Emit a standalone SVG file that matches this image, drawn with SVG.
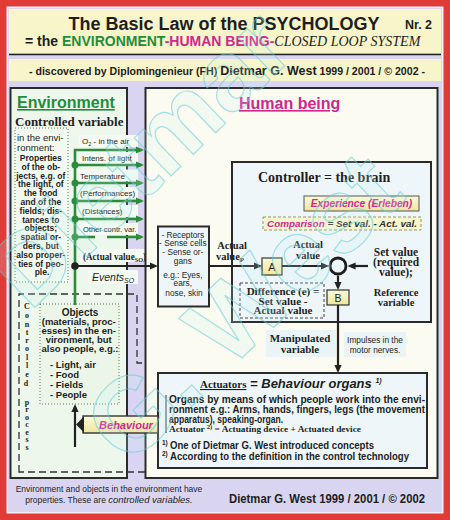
<svg xmlns="http://www.w3.org/2000/svg" width="450" height="520" viewBox="0 0 450 520">
<defs>
<style>
text{font-family:"Liberation Sans",Arial,sans-serif;fill:#1e1e1e}
.sf{font-family:"Liberation Serif","Times New Roman",serif}
.b{font-weight:bold}
.it{font-style:italic}
.mid{text-anchor:middle}
.mag{fill:#cf2790}
.grn{fill:#1f8d3a}
.box{fill:#eef6fa;stroke:#2b2b2b;stroke-width:2}
.panel{stroke:#2b2b2b;stroke-width:2}
.gl{stroke:#2c8c3c;stroke-width:2.6;fill:none}
.bl{stroke:#222;stroke-width:2.2;fill:none}
.lbl{fill:#f5faf3}
.dot{fill:none;stroke:#5b7d5b;stroke-width:1;stroke-dasharray:1 2}
.dash{fill:none;stroke:#444;stroke-width:1;stroke-dasharray:3 2}
.wm{font-family:"Liberation Sans",Arial,sans-serif;font-weight:bold;fill:#c6f2f2;fill-opacity:.18;stroke:#62ccd4;stroke-width:1.2;stroke-opacity:.55}
</style>
<linearGradient id="yel" x1="0" y1="0" x2="0" y2="1"><stop offset="0" stop-color="#fbf9dc"/><stop offset="1" stop-color="#efe69c"/></linearGradient>
<marker id="ab" viewBox="0 0 10 10" refX="7" refY="5" markerWidth="8" markerHeight="8" markerUnits="userSpaceOnUse" orient="auto"><path d="M0,0.5 L10,5 L0,9.5 z" fill="#222"/></marker>
<marker id="ag" viewBox="0 0 10 10" refX="7" refY="5" markerWidth="8" markerHeight="8" markerUnits="userSpaceOnUse" orient="auto"><path d="M0,0.5 L10,5 L0,9.5 z" fill="#2c8c3c"/></marker>
</defs>

<!-- frame -->
<rect width="450" height="520" fill="#e03b37"/>
<rect x="6.5" y="6.5" width="437" height="507" fill="#f2eefa"/>
<rect x="8" y="8" width="434" height="504" fill="#d9d5f1"/>

<g id="title">
<rect x="9" y="9" width="432" height="44" fill="#f7f5c9"/>
<line x1="9" y1="54.5" x2="441" y2="54.5" stroke="#222" stroke-width="1.5"/>
<rect x="9" y="59" width="432" height="22" fill="#f7f5c9"/>
<text x="224" y="29.5" class="b mid" font-size="18">The Basic Law of the PSYCHOLOGY</text>
<text x="405" y="28.5" class="b" font-size="13.5" textLength="27" lengthAdjust="spacingAndGlyphs">Nr. 2</text>
<text x="25" y="46" class="b" font-size="14">= the <tspan class="grn">ENVIRONMENT</tspan><tspan class="mag">-HUMAN BEING-</tspan><tspan class="sf it" font-weight="normal">CLOSED LOOP SYSTEM</tspan></text>
<text x="29" y="75" class="b" font-size="11" textLength="396" lengthAdjust="spacingAndGlyphs">- discovered by Diplomingenieur (FH) <tspan font-size="13">Dietmar G. West</tspan> 1999 / 2001 / © 2002 -</text>
</g>

<g id="environment">
<rect x="10.5" y="88" width="116.5" height="390" fill="#eef7ec" class="panel"/>
<text x="17" y="108" class="b grn" font-size="16" text-decoration="underline">Environment</text>
<text x="15" y="126" class="sf b" font-size="13">Controlled variable</text>
</g>

<g id="properties">
<rect x="15" y="128" width="53" height="154" fill="#f2f9f0"/>
<rect x="15" y="128" width="53" height="154" class="dot"/>
<text x="17" y="141" font-size="9.5">in the envi-</text>
<text x="17" y="151" font-size="9.5">ronment:</text>
<text class="b mid" font-size="8.5">
<tspan x="42" y="161">Properties</tspan>
<tspan x="42" y="169.8">of the ob-</tspan>
<tspan x="42" y="178.6">jects, e.g. of</tspan>
<tspan x="42" y="187.4">the light, of</tspan>
<tspan x="42" y="196.2">the food</tspan>
<tspan x="42" y="205">and of the</tspan>
<tspan x="42" y="213.8">fields; dis-</tspan>
<tspan x="42" y="222.6">tances to</tspan>
<tspan x="42" y="231.4">objects;</tspan>
<tspan x="42" y="240.2">spatial or-</tspan>
<tspan x="42" y="249">ders, but</tspan>
<tspan x="42" y="257.8">also proper-</tspan>
<tspan x="42" y="266.6">ties of peo-</tspan>
<tspan x="42" y="275.4">ple.</tspan>
</text>
</g>

<g id="controlled-variables">
<rect x="79" y="135" width="59" height="12" class="lbl"/>
<rect x="79" y="152" width="59" height="12" class="lbl"/>
<rect x="79" y="169.5" width="59" height="12" class="lbl"/>
<rect x="79" y="187" width="59" height="12" class="lbl"/>
<rect x="79" y="205" width="59" height="12" class="lbl"/>
<rect x="79" y="223" width="59" height="12" class="lbl"/>
<text x="82" y="144" font-size="8">O<tspan font-size="5.5" dy="2">2</tspan><tspan dy="-2"> - in the air</tspan></text>
<text x="82" y="161" font-size="8">Intens. of light</text>
<text x="80" y="178.5" font-size="8">Temperature</text>
<text x="80" y="196" font-size="8">(Performances)</text>
<text x="82" y="214" font-size="8">(Distances)</text>
<text x="83" y="232" font-size="7.5">Other contr. var.</text>
</g>

<g id="actual-value-so">
<rect x="80" y="249" width="66" height="13" class="lbl"/>
<rect x="88" y="270" width="50" height="14" class="lbl"/>
<text x="83" y="260" class="sf b" font-size="9.5" textLength="63" lengthAdjust="spacingAndGlyphs">(Actual value<tspan font-size="6.5" dy="2">SO</tspan><tspan dy="-2">)</tspan></text>
<text x="92" y="281" class="it" font-size="10.5">Events<tspan font-size="7" dy="2">SO</tspan></text>
</g>

<g id="controlled-process">
<path d="M19,472 V294 H137 V363 H432 V472 Z" fill="none" stroke="#333" stroke-width="1.3" stroke-dasharray="7 4"/>
<text class="sf b mid" font-size="8">
<tspan x="27" y="309">C</tspan><tspan x="27" y="317.5">o</tspan><tspan x="27" y="326.5">n</tspan><tspan x="27" y="335">t</tspan><tspan x="27" y="342.5">r</tspan><tspan x="27" y="350.5">o</tspan><tspan x="27" y="360">l</tspan><tspan x="27" y="368">l</tspan><tspan x="27" y="376.5">e</tspan><tspan x="27" y="386">d</tspan>
<tspan x="27" y="405">p</tspan><tspan x="27" y="412">r</tspan><tspan x="27" y="419.5">o</tspan><tspan x="27" y="427">c</tspan><tspan x="27" y="434.5">e</tspan><tspan x="27" y="442">s</tspan><tspan x="27" y="449.5">s</tspan>
</text>
</g>

<g id="objects">
<rect x="40" y="304" width="79" height="100" fill="#ebf6e9"/>
<rect x="40" y="304" width="79" height="100" class="dot"/>
<text x="80" y="315.5" class="b mid" font-size="10">Objects</text>
<text class="b mid" font-size="9.5">
<tspan x="80" y="324.5">(materials, proc-</tspan>
<tspan x="80" y="333.5">esses) in the en-</tspan>
<tspan x="80" y="342.5">vironment, but</tspan>
<tspan x="80" y="351.5">also people, e.g.:</tspan>
</text>
<text class="b" font-size="9.5">
<tspan x="50" y="368">- Light, air</tspan>
<tspan x="50" y="378">- Food</tspan>
<tspan x="50" y="388">- Fields</tspan>
<tspan x="50" y="398">- People</tspan>
</text>
</g>

<g id="human-being">
<rect x="145.5" y="88" width="292" height="390" fill="#fbfbf1" class="panel"/>
<text x="239" y="109" class="b mag" font-size="16" text-decoration="underline">Human being</text>
</g>

<g id="receptors">
<rect x="158" y="226.5" width="51" height="80" class="box" stroke-width="1.6"/>
<text class="mid" font-size="8.3">
<tspan x="184" y="238">- Receptors</tspan>
<tspan x="184" y="246.3">- Sense cells</tspan>
<tspan x="184" y="254.7">- Sense or-</tspan>
<tspan x="184" y="263.5">gans</tspan>
<tspan x="184" y="278">e.g.: Eyes,</tspan>
<tspan x="184" y="286.3">ears,</tspan>
<tspan x="184" y="296.3">nose, skin</tspan>
</text>
</g>

<g id="controller">
<rect x="232" y="162" width="199" height="160" class="box"/>
<text x="258" y="182" class="sf b" font-size="14">Controller = the brain</text>
</g>

<g id="experience">
<rect x="304" y="196" width="115" height="15" fill="url(#yel)" stroke="#555" stroke-width="1"/>
<text x="361.5" y="207" class="b it mid mag" font-size="10.2">Experience (Erleben)</text>
</g>

<g id="comparison">
<rect x="263" y="217" width="158" height="13" fill="#f8f6cc" stroke="#9a9460" stroke-width="1" stroke-dasharray="3 2"/>
<text x="267" y="227" class="b it" font-size="9.5" textLength="150" lengthAdjust="spacingAndGlyphs"><tspan class="mag">Comparison</tspan><tspan fill="#333"> = Set val. - Act. val.</tspan></text>
</g>

<g id="actual-value-p">
<text class="sf b mid" font-size="10.5"><tspan x="232" y="249">Actual</tspan><tspan x="230" y="260">value<tspan font-size="7" dy="1.5">P</tspan></tspan></text>
</g>

<g id="actual-value">
<text class="sf b mid" font-size="10.5"><tspan x="308" y="248">Actual</tspan><tspan x="308" y="259">value</tspan></text>
</g>

<g id="set-value">
<text class="sf b mid" font-size="11.5"><tspan x="396" y="255.5">Set value</tspan><tspan x="396" y="265.5">(required</tspan><tspan x="396" y="275.5">value);</tspan></text>
<text class="sf b mid" font-size="10.5"><tspan x="396" y="296">Reference</tspan><tspan x="396" y="306">variable</tspan></text>
</g>

<g id="difference">
<rect x="240" y="283" width="84" height="35" class="dash"/>
<text class="sf b mid" font-size="11"><tspan x="283" y="295">Difference (e) =</tspan><tspan x="283" y="304.5">Set value -</tspan><tspan x="283" y="314">Actual value</tspan></text>
</g>

<g id="block-a">
<rect x="262" y="258" width="20" height="17" fill="url(#yel)" stroke="#333" stroke-width="1.2"/>
<text x="272" y="271" class="mid" font-size="11">A</text>
</g>

<g id="summing-point">
<circle cx="338" cy="266" r="8" fill="#eef6fa" stroke="#1e1e1e" stroke-width="2.8"/>
</g>

<g id="block-b">
<rect x="327" y="290" width="22" height="15" fill="url(#yel)" stroke="#333" stroke-width="1.2"/>
<text x="338" y="302" class="mid" font-size="10.5">B</text>
</g>

<g id="manipulated-variable">
<rect x="266" y="330" width="70" height="27" fill="#eaf4f6"/>
<text class="sf b mid" font-size="11"><tspan x="300" y="342">Manipulated</tspan><tspan x="300" y="353">variable</tspan></text>
</g>

<g id="impulses">
<rect x="344" y="332" width="62" height="25" fill="#eaf4f6"/>
<text class="mid" font-size="8.3"><tspan x="375" y="343">Impulses in the</tspan><tspan x="375" y="353">motor nerves.</tspan></text>
</g>

<g id="actuators">
<rect x="158" y="373" width="269" height="95" class="box"/>
<text x="200" y="388"><tspan class="sf b" font-size="11" text-decoration="underline">Actuators</tspan><tspan class="b it" font-size="13"> = Behaviour organs </tspan><tspan class="it b" font-size="7" dy="-5">1)</tspan></text>
<line x1="166" y1="395" x2="166" y2="433" stroke="#333" stroke-width="1"/>
<text x="169" y="403" class="b" font-size="10" textLength="256" lengthAdjust="spacingAndGlyphs">Organs by means of which people work into the envi-</text>
<text x="169" y="413" class="b" font-size="10" textLength="256" lengthAdjust="spacingAndGlyphs">ronment e.g.: Arms, hands, fingers, legs (the movement</text>
<text x="169" y="422.5" class="b" font-size="10" textLength="114" lengthAdjust="spacingAndGlyphs">apparatus), speaking-organ.</text>
<text x="169" y="431.5" class="sf b" font-size="8.5" textLength="192" lengthAdjust="spacingAndGlyphs">Actuator <tspan font-size="6" dy="-3">2)</tspan><tspan dy="3"> = Actuating device + Actuated device</tspan></text>
<text x="162" y="445" class="b" font-size="6.5">1)</text>
<text x="170" y="449" class="b" font-size="10" textLength="204" lengthAdjust="spacingAndGlyphs">One of Dietmar G. West introduced concepts</text>
<text x="162" y="455.5" class="b" font-size="6.5">2)</text>
<text x="170" y="459.5" class="b" font-size="10" textLength="239" lengthAdjust="spacingAndGlyphs">According to the definition in the control technology</text>
</g>

<g id="behaviour">
<rect x="83" y="416" width="75" height="17" fill="url(#yel)" stroke="#333" stroke-width="1.4"/>
<path d="M76,424.5 L84,416.5 L84,432.5 Z" fill="#222"/>
<text x="126" y="428.5" class="b it mid mag" font-size="11">Behaviour</text>
</g>

<g id="connectors">
<path class="gl" d="M75,305 V150 H141.6" marker-end="url(#ag)"/>
<path class="gl" d="M75,165 H141.6" marker-end="url(#ag)"/>
<path class="gl" d="M75,183 H141.6" marker-end="url(#ag)"/>
<path class="gl" d="M75,201 H141.6" marker-end="url(#ag)"/>
<path class="gl" d="M75,219 H141.6" marker-end="url(#ag)"/>
<path class="gl" d="M75,237 H95"/>
<path class="gl" d="M107,237 H141.6" marker-end="url(#ag)"/>
<g fill="#2c8c3c">
<circle cx="75" cy="165" r="3.5"/><circle cx="75" cy="183" r="3.5"/><circle cx="75" cy="201" r="3.5"/><circle cx="75" cy="219" r="3.5"/><circle cx="75" cy="237" r="3.5"/>
</g>
<path class="bl" d="M75,266 H155.6" marker-end="url(#ab)"/>
<circle cx="75" cy="266" r="3.8" fill="#222"/>
<path class="bl" d="M209,266 H259.6" marker-end="url(#ab)"/>
<path class="bl" d="M282,266 H326.6" marker-end="url(#ab)"/>
<path class="bl" d="M368,266 H350" marker-end="url(#ab)"/>
<path class="bl" d="M338,275.5 V287.6" marker-end="url(#ab)"/>
<path class="bl" d="M338,305 V370.6" marker-end="url(#ab)"/>
<path class="bl" d="M75,447 V406.4" marker-end="url(#ab)"/>
</g>

<g id="footer">
<text x="109" y="492" class="mid" font-size="8.5">Environment and objects in the environment have</text>
<text x="109" y="503" class="mid" font-size="8.5">properties. These are <tspan class="it" font-size="9.5">controlled variables.</tspan></text>
<text x="229" y="503" class="b" font-size="13.5" textLength="196" lengthAdjust="spacingAndGlyphs">Dietmar G. West 1999 / 2001 / © 2002</text>
</g>

<g id="watermark">
<text class="wm" font-size="100" transform="translate(30,312) rotate(-44)">Dietmar</text>
<text class="wm" font-size="105" transform="translate(128,468) rotate(-44)">G. West</text>
</g>
</svg>
